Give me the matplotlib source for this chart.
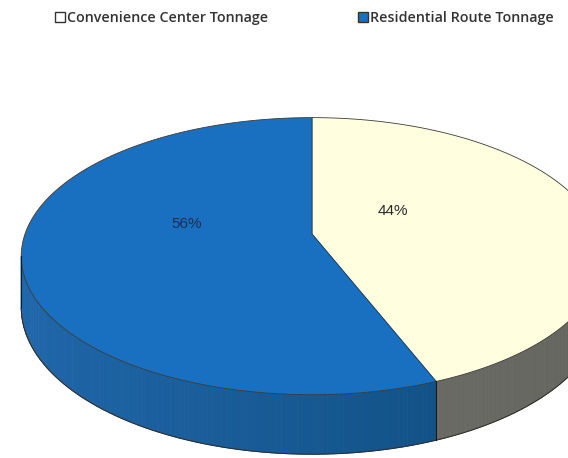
import matplotlib.pyplot as plt
import numpy as np
from matplotlib.patches import Patch, Polygon

categories = ["Convenience Center Tonnage", "Residential Route Tonnage"]
tonnage_share = [44, 56]
pct_labels = ["44%", "56%"]

top_colors = ["#ffffdf", "#1a70c0"]
side_light = [(118, 118, 112), (32, 104, 172)]
side_dark = [(100, 100, 95), (12, 72, 118)]
label_colors = ["#2a2a2a", "#1c2f52"]
label_xy = [(393, 211), (187, 224)]

fig = plt.figure(figsize=(5.68, 4.58), dpi=100)
ax = fig.add_axes([0, 0, 1, 1])
ax.set_xlim(0, 568)
ax.set_ylim(458, 0)
ax.axis("off")

# rough perspective view of the pie disc (angles clockwise from 12 o'clock)
cx, cy, rx, ry, tilt, depth = 312, 234, 287, 135, 0.16, 50


def project(theta, drop=0.0):
    t = np.radians(theta)
    s = 1 / (1 + tilt * np.cos(t))
    return cx + rx * np.sin(t) * s, cy - ry * np.cos(t) * s + drop * s


bounds = np.concatenate([[0], np.cumsum(tonnage_share) / np.sum(tonnage_share) * 360])

# visible part of the wall: between the rightmost and leftmost points
scan = np.linspace(0, 360, 3601)
sx, _ = project(scan)
right_a, left_a = scan[np.argmax(sx)], scan[np.argmin(sx)]

for i in range(len(tonnage_share)):
    a0, a1 = max(bounds[i], right_a), min(bounds[i + 1], left_a)
    if a1 <= a0:
        continue
    angles = np.linspace(a0, a1, 120)
    for t0, t1 in zip(angles[:-1], angles[1:]):
        shade = (1 - np.sin(np.radians((t0 + t1) / 2))) / 2
        col = [(d + (l - d) * shade) / 255 for l, d in zip(side_light[i], side_dark[i])]
        pts = [project(t0), project(t1), project(t1, depth), project(t0, depth)]
        ax.add_patch(Polygon(pts, closed=True, facecolor=col, edgecolor=col, lw=0.6))

# outlines of the wall
arc = np.linspace(right_a, left_a, 300)
bx, by = project(arc, depth)
ax.plot(bx, by, color="#2b2b2b", lw=0.7)
for b in list(bounds[1:-1]) + [left_a]:
    x0, y0 = project(b)
    x1, y1 = project(b, depth)
    ax.plot([x0, x1], [y0, y1], color="#1a1a1a", lw=0.8)

# top face
for i in range(len(tonnage_share)):
    angles = np.linspace(bounds[i], bounds[i + 1], 200)
    xs, ys = project(angles)
    pts = [(cx, cy)] + list(zip(xs, ys))
    ax.add_patch(Polygon(pts, closed=True, facecolor=top_colors[i],
                         edgecolor="#3a3a3a", lw=0.6))

for (x, y), text, c in zip(label_xy, pct_labels, label_colors):
    ax.text(x, y, text, ha="center", va="center", fontsize=11,
            family="Liberation Sans", color=c)

handles = [Patch(facecolor="white", edgecolor="#333333"),
           Patch(facecolor=top_colors[1], edgecolor="#333333")]
fig.legend(handles, categories, ncol=2, loc="upper left",
           bbox_to_anchor=(42 / 568, 1 + 2 / 458), frameon=False,
           prop={"family": "Open Sans", "size": 10.3, "weight": "semibold"},
           labelcolor="#333333",
           handlelength=0.7, handleheight=0.7, handletextpad=0.15,
           columnspacing=6.3)

fig.savefig("out.png", dpi=100)
